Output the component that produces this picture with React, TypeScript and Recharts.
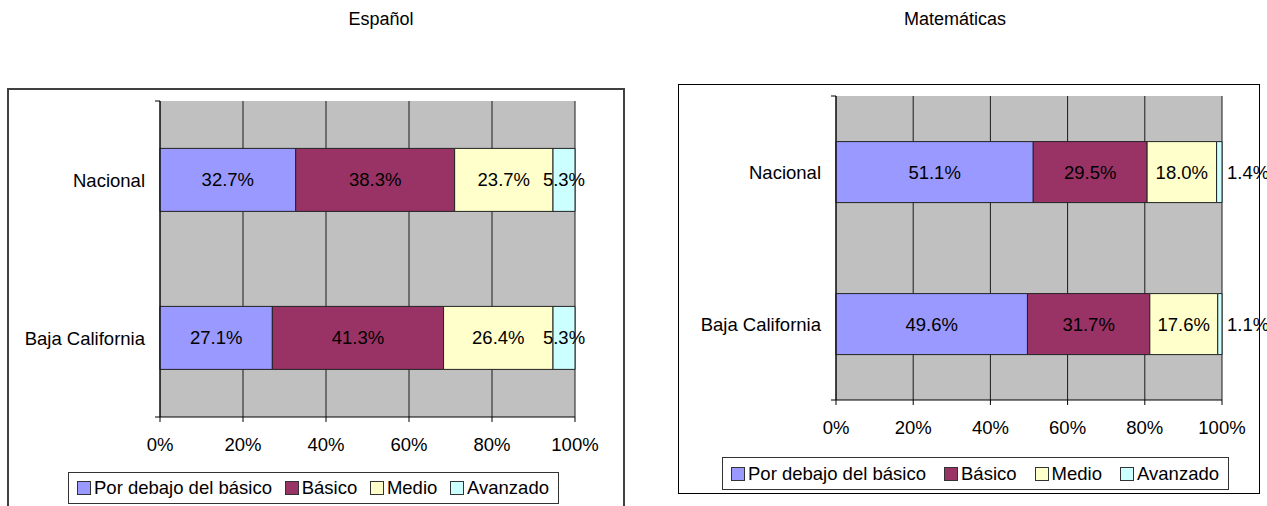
import React from 'react';
import { BarChart, Bar, XAxis, YAxis, CartesianGrid, LabelList, Legend } from 'recharts';

const categories = ['Nacional', 'Baja California'];
const seriesNames = ['Por debajo del básico', 'Básico', 'Medio', 'Avanzado'];
const seriesKeys = ['porDebajo', 'basico', 'medio', 'avanzado'];
const seriesColors = ['#9999FF', '#993366', '#FFFFCC', '#CCFFFF'];

const espanolPorDebajo = [32.7, 27.1];
const espanolBasico = [38.3, 41.3];
const espanolMedio = [23.7, 26.4];
const espanolAvanzado = [5.3, 5.3];

const matePorDebajo = [51.1, 49.6];
const mateBasico = [29.5, 31.7];
const mateMedio = [18.0, 17.6];
const mateAvanzado = [1.4, 1.1];

const xTicks = [0, 0.2, 0.4, 0.6, 0.8, 1];
const xTickLabels = ['0%', '20%', '40%', '60%', '80%', '100%'];
const boundaryTicks = [0, 1, 2];
const titles = ['Español', 'Matemáticas'];

const FONT = '"Liberation Sans", Arial, Helvetica, sans-serif';
const FS = 18.5;

function buildData(series: number[][]) {
  return categories.map((name, i) => {
    const row: Record<string, any> = { name };
    seriesKeys.forEach((k, j) => {
      row[k] = series[j][i];
    });
    return row;
  });
}

const espanolData = buildData([espanolPorDebajo, espanolBasico, espanolMedio, espanolAvanzado]);
const mateData = buildData([matePorDebajo, mateBasico, mateMedio, mateAvanzado]);

const fmtPct = (v: any) => `${Number(v).toFixed(1)}%`;
const fmtTick = (v: any) => {
  const idx = xTicks.indexOf(v);
  return idx >= 0 ? xTickLabels[idx] : `${Math.round(v * 100)}%`;
};

function LegendBox({ width, height }: { width: number; height: number }) {
  return (
    <div
      style={{
        width,
        height,
        boxSizing: 'border-box',
        border: '1px solid #333',
        background: '#fff',
        display: 'flex',
        alignItems: 'center',
        justifyContent: 'space-between',
        padding: '0 9px 0 8px',
        fontSize: FS,
        fontFamily: FONT,
        color: '#000',
        whiteSpace: 'nowrap',
      }}
    >
      {seriesNames.map((n, i) => (
        <div key={n} style={{ display: 'flex', alignItems: 'center' }}>
          <span
            style={{
              width: 12,
              height: 12,
              background: seriesColors[i],
              border: '1px solid #333',
              marginRight: 3,
              display: 'inline-block',
            }}
          />
          <span>{n}</span>
        </div>
      ))}
    </div>
  );
}

type PanelProps = {
  data: any[];
  width: number;
  height: number;
  margin: { top: number; right: number; bottom: number; left: number };
  legend: { left: number; top: number; width: number; height: number };
  lastOutside: boolean;
};

function Panel({ data, width, height, margin, legend, lastOutside }: PanelProps) {
  return (
    <BarChart
      width={width}
      height={height}
      data={data}
      layout="vertical"
      stackOffset="expand"
      barCategoryGap="30%"
      margin={margin}
    >
      <CartesianGrid
        horizontal={false}
        vertical={true}
        stroke="#1a1a1a"
        fill="#C0C0C0"
        fillOpacity={1}
        yAxisId="cat"
      />
      <XAxis
        type="number"
        domain={[0, 1]}
        ticks={xTicks}
        interval={0}
        tickFormatter={fmtTick}
        height={40}
        tickSize={5}
        tickMargin={16}
        axisLine={{ stroke: '#000' }}
        tickLine={{ stroke: '#000' }}
        tick={{ fontSize: FS, fill: '#000' }}
      />
      <YAxis
        yAxisId="b"
        type="number"
        domain={[0, 2]}
        ticks={boundaryTicks}
        allowDataOverflow={true}
        tickFormatter={() => ''}
        width={1}
        tickSize={5}
        axisLine={{ stroke: '#000' }}
        tickLine={{ stroke: '#000' }}
      />
      <YAxis
        yAxisId="cat"
        type="category"
        dataKey="name"
        width={140}
        interval={0}
        axisLine={false}
        tickLine={false}
        tickSize={6}
        tickMargin={8}
        tick={{ fontSize: FS, fill: '#000' }}
      />
      {seriesKeys.map((k, i) => (
        <Bar
          key={k}
          dataKey={k}
          name={seriesNames[i]}
          yAxisId="cat"
          stackId="a"
          fill={seriesColors[i]}
          stroke="#222"
          strokeWidth={1}
          isAnimationActive={false}
        >
          <LabelList
            dataKey={k}
            position={i === 3 && lastOutside ? 'right' : 'center'}
            offset={5}
            formatter={fmtPct}
            fill="#000"
            fontSize={FS}
          />
        </Bar>
      ))}
      <Legend
        layout="horizontal"
        verticalAlign="middle"
        align="center"
        width={legend.width}
        height={legend.height}
        wrapperStyle={{ left: legend.left, top: legend.top, width: legend.width, height: legend.height }}
        content={() => <LegendBox width={legend.width} height={legend.height} />}
      />
    </BarChart>
  );
}

export default function App() {
  return (
    <div
      style={{
        position: 'absolute',
        left: 0,
        top: 0,
        width: 1267,
        height: 506,
        overflow: 'hidden',
        background: '#fff',
        fontFamily: FONT,
      }}
    >
      <div
        style={{
          position: 'absolute',
          left: 281,
          top: 9,
          width: 200,
          textAlign: 'center',
          fontSize: 18,
          lineHeight: '20px',
          color: '#000',
        }}
      >
        {titles[0]}
      </div>
      <div
        style={{
          position: 'absolute',
          left: 855,
          top: 9,
          width: 200,
          textAlign: 'center',
          fontSize: 18,
          lineHeight: '20px',
          color: '#000',
        }}
      >
        {titles[1]}
      </div>
      <div
        style={{
          position: 'absolute',
          left: 7,
          top: 88,
          width: 618,
          height: 440,
          boxSizing: 'border-box',
          border: '2px solid #404040',
        }}
      />
      <div
        style={{
          position: 'absolute',
          left: 678,
          top: 84,
          width: 582,
          height: 410,
          boxSizing: 'border-box',
          border: '1px solid #000',
        }}
      />
      <div style={{ position: 'absolute', left: 0, top: 0 }}>
        <Panel
          data={espanolData}
          width={640}
          height={506}
          margin={{ top: 101, right: 65, bottom: 49, left: 19 }}
          legend={{ left: 68, top: 472, width: 491, height: 32 }}
          lastOutside={false}
        />
      </div>
      <div style={{ position: 'absolute', left: 660, top: 0 }}>
        <Panel
          data={mateData}
          width={607}
          height={506}
          margin={{ top: 96, right: 45, bottom: 66, left: 35 }}
          legend={{ left: 62, top: 457, width: 507, height: 33 }}
          lastOutside={true}
        />
      </div>
    </div>
  );
}
